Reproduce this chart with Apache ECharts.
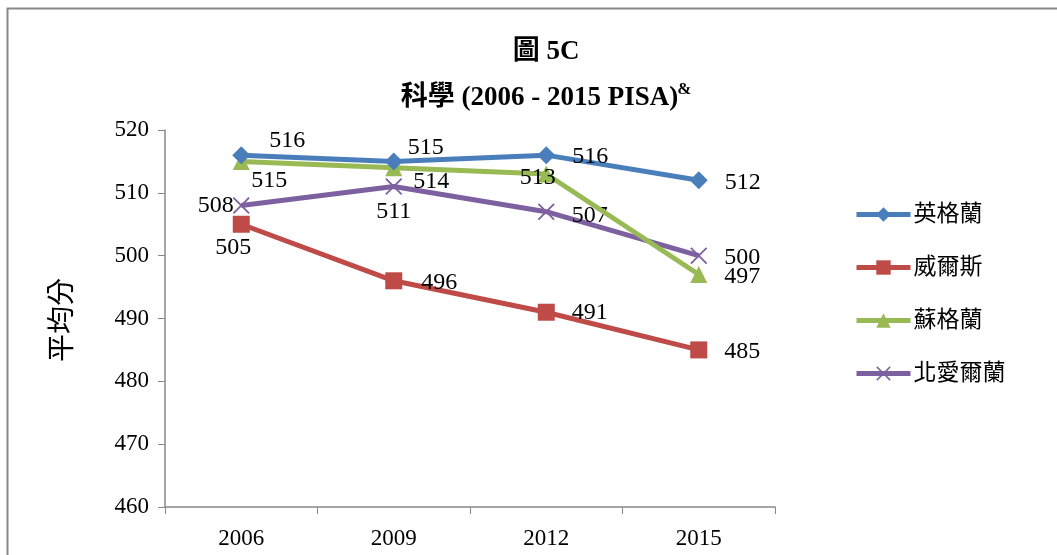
<!DOCTYPE html>
<html>
<head>
<meta charset="utf-8">
<script src="https://cdn.jsdelivr.net/npm/echarts@6/dist/echarts.min.js"></script>
<style>
html,body{margin:0;padding:0;background:#fff;}
#c{width:1057px;height:555px;}
</style>
</head>
<body>
<div id="c"></div>
<script>
var categories = ['2006', '2009', '2012', '2015'];
var seriesNames = ['英格蘭', '威爾斯', '蘇格蘭', '北愛爾蘭'];
var england = [516, 515, 516, 512];
var wales = [505, 496, 491, 485];
var scotland = [515, 514, 513, 497];
var nIreland = [508, 511, 507, 500];
var yTicks = [460, 470, 480, 490, 500, 510, 520];

var SERIF = '"Liberation Serif", "Times New Roman", "Noto Sans CJK TC", serif';
var colors = ['#4A7EBB', '#BE4B48', '#98B954', '#7D60A0'];
var xPath = 'path://M0,1.5L1.5,0L10,8.5L18.5,0L20,1.5L11.5,10L20,18.5L18.5,20L10,11.5L1.5,20L0,18.5L8.5,10Z';

// label placement per point (style only)
var labelPos = [
  [{position:'right', offset:[14,-14]}, {position:'right', offset:[0,-14]}, {position:'right', offset:[12,2]}, {position:'right', offset:[12,2]}],
  [{position:'bottom', offset:[-8,-2]}, {position:'right', offset:[14,2]}, {position:'right', offset:[12,0]}, {position:'right', offset:[12,2]}],
  [{position:'bottom', offset:[28,-6]}, {position:'right', offset:[6,14]}, {position:'right', offset:[-40,4]}, {position:'right', offset:[12,2]}],
  [{position:'left', offset:[6,0]}, {position:'bottom', offset:[0,0]}, {position:'right', offset:[12,4]}, {position:'right', offset:[12,2]}]
];

function mkData(arr, si) {
  return arr.map(function (v, i) {
    var p = labelPos[si][i];
    return { value: v, label: { position: p.position, offset: p.offset } };
  });
}

var symbols = ['diamond', 'rect', 'triangle', xPath];
var symSizes = [18, 17, 17, 17];
var dataArr = [england, wales, scotland, nIreland];

var series = dataArr.map(function (arr, si) {
  return {
    name: seriesNames[si],
    type: 'line',
    data: mkData(arr, si),
    symbol: symbols[si],
    symbolSize: symSizes[si],
    showAllSymbol: true,
    lineStyle: { width: 5, color: colors[si] },
    itemStyle: { color: colors[si] },
    label: {
      show: true,
      fontFamily: SERIF,
      fontSize: 24,
      color: '#000',
      distance: 5
    },
    emphasis: { disabled: true },
    animation: false,
    z: 10 - si
  };
});

var chart = echarts.init(document.getElementById('c'), null, { renderer: 'canvas' });
chart.setOption({
  animation: false,
  backgroundColor: '#fff',
  title: {
    text: '圖 5C\n{t|科學 (2006 - 2015 PISA)}{s|&}',
    left: 541,
    textAlign: 'center',
    top: 24,
    textStyle: {
      fontFamily: SERIF,
      fontSize: 27,
      fontWeight: 'bold',
      color: '#000',
      lineHeight: 46,
      rich: {
        t: { fontFamily: SERIF, fontSize: 27, fontWeight: 'bold', color: '#000', lineHeight: 46 },
        s: { fontFamily: SERIF, fontSize: 17, fontWeight: 'bold', color: '#000', verticalAlign: 'top', padding: [6, 0, 0, -1] }
      }
    }
  },
  graphic: [
    {
      type: 'rect',
      shape: { x: 7.5, y: 8.5, width: 1200, height: 700 },
      style: { fill: 'none', stroke: '#888', lineWidth: 2 },
      silent: true,
      z: -1
    },
    {
      type: 'text',
      left: 50,
      top: 278,
      rotation: Math.PI / 2,
      style: {
        text: '平均分',
        fontFamily: SERIF,
        fontSize: 28,
        fill: '#000'
      }
    }
  ],
  legend: {
    orient: 'vertical',
    left: 849,
    top: 198,
    itemWidth: 54,
    itemHeight: 18,
    itemGap: 30,
    lineStyle: { width: 5 },
    textStyle: { fontFamily: SERIF, fontSize: 23, color: '#000', padding: [0, 0, 0, -2] },
    data: seriesNames
  },
  grid: { left: 165, right: 282, top: 130, bottom: 48, containLabel: false },
  xAxis: {
    type: 'category',
    data: categories,
    boundaryGap: true,
    axisLine: { lineStyle: { color: '#888', width: 1.5 } },
    axisTick: { show: true, alignWithLabel: false, length: 7, lineStyle: { color: '#888' } },
    axisLabel: { fontFamily: SERIF, fontSize: 23, color: '#000', margin: 20 },
    splitLine: { show: false }
  },
  yAxis: {
    type: 'value',
    min: yTicks[0],
    max: yTicks[yTicks.length - 1],
    interval: 10,
    axisLine: { show: true, lineStyle: { color: '#888', width: 1.5 } },
    axisTick: { show: true, length: 7, inside: false, lineStyle: { color: '#888' } },
    axisLabel: { fontFamily: SERIF, fontSize: 23, color: '#000', margin: 16 },
    splitLine: { show: false }
  },
  series: series
});
</script>
</body>
</html>
